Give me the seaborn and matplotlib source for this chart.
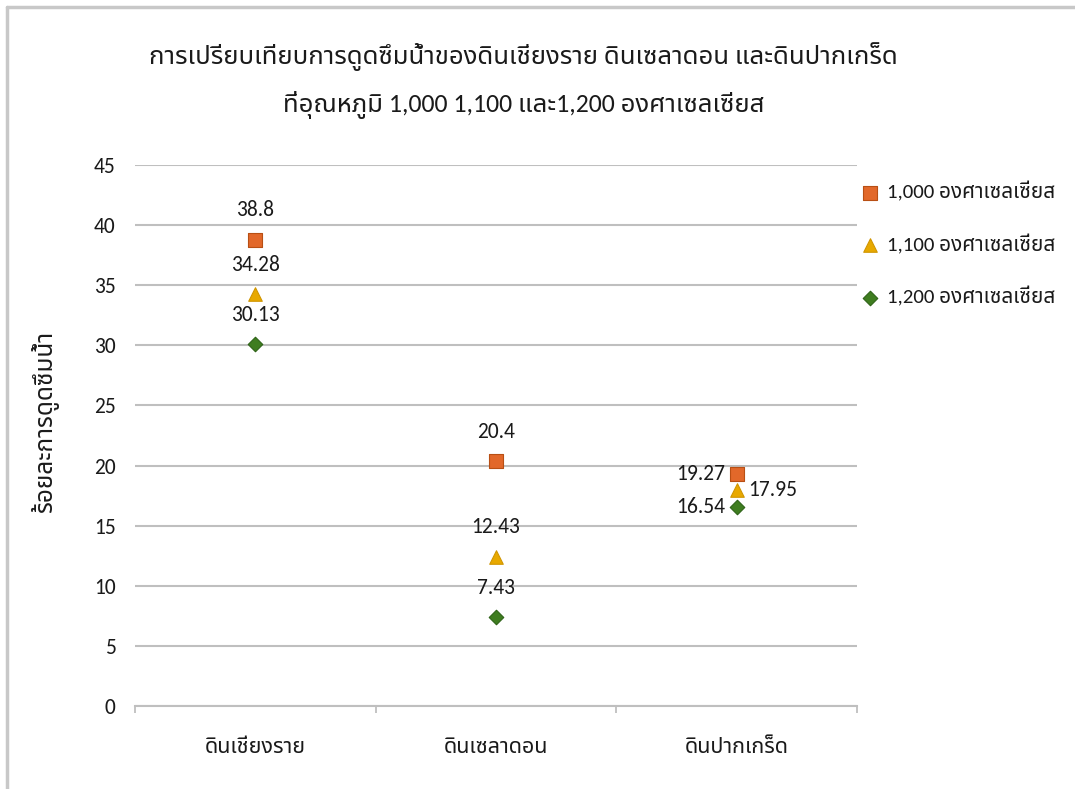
import matplotlib
matplotlib.use("Agg")
import matplotlib.pyplot as plt
from matplotlib.lines import Line2D
import seaborn as sns
import pandas as pd

# ---- data ----
categories = ["ดินเชียงราย", "ดินเซลาดอน", "ดินปากเกร็ด"]
series_names = ["1,000 องศาเซลเซียส", "1,100 องศาเซลเซียส", "1,200 องศาเซลเซียส"]
values_1000 = [38.8, 20.4, 19.27]
values_1100 = [34.28, 12.43, 17.95]
values_1200 = [30.13, 7.43, 16.54]
label_text_1000 = ["38.8", "20.4", "19.27"]
label_text_1100 = ["34.28", "12.43", "17.95"]
label_text_1200 = ["30.13", "7.43", "16.54"]
y_ticks = [0, 5, 10, 15, 20, 25, 30, 35, 40, 45]
title_text = "การเปรียบเทียบการดูดซึมน้ำของดินเชียงราย ดินเซลาดอน และดินปากเกร็ด\nที่อุณหภูมิ 1,000 1,100 และ1,200 องศาเซลเซียส"
y_label = "ร้อยละการดูดซึมน้ำ"

colors = ["#E2682A", "#E8A900", "#3F7D20"]
edge_colors = ["#B84F14", "#D09500", "#2F6318"]
markers = ["s", "^", "D"]
sizes = [95, 95, 55]

rows = []
for name, vals, labs in zip(series_names, [values_1000, values_1100, values_1200],
                            [label_text_1000, label_text_1100, label_text_1200]):
    for i, (c, v, l) in enumerate(zip(categories, vals, labs)):
        rows.append({"cat": c, "idx": i, "value": v, "series": name, "lab": l})
df = pd.DataFrame(rows)

sns.set_theme(style="white")
FAM = ["Carlito", "Noto Sans Thai"]
plt.rcParams["font.family"] = FAM

fig = plt.figure(figsize=(10.75, 7.89), dpi=100)
ax = fig.add_axes([135/1075, 1-706/789, (857-135)/1075, (706-165)/789])

for k, name in enumerate(series_names):
    sub = df[df["series"] == name]
    sns.scatterplot(data=sub, x="idx", y="value", ax=ax, marker=markers[k], s=sizes[k],
                    color=colors[k], edgecolor=edge_colors[k], linewidth=0.8,
                    label=name, zorder=3)

# data labels
offsets = {
    ("ดินเชียงราย", 0): (0, 21, "center"), ("ดินเชียงราย", 1): (0, 21, "center"), ("ดินเชียงราย", 2): (0, 21, "center"),
    ("ดินเซลาดอน", 0): (0, 21, "center"), ("ดินเซลาดอน", 1): (0, 21, "center"), ("ดินเซลาดอน", 2): (0, 21, "center"),
    ("ดินปากเกร็ด", 0): (-8, 0, "right"), ("ดินปากเกร็ด", 1): (8, 0, "left"), ("ดินปากเกร็ด", 2): (-8, 0, "right"),
}
for _, r in df.iterrows():
    k = series_names.index(r["series"])
    dx, dy, ha = offsets[(r["cat"], k)]
    ax.annotate(r["lab"], (r["idx"], r["value"]), xytext=(dx, dy), textcoords="offset points",
                ha=ha, va="center", fontsize=15.5, color="#1a1a1a", family=FAM, zorder=4)

ax.set_xlim(-0.5, 2.5)
ax.set_ylim(0, 45)
ax.set_yticks(y_ticks)
ax.set_yticklabels([str(t) for t in y_ticks])
ax.set_xticks(range(len(categories)))
ax.set_xticklabels(categories)
ax.set_xticks([-0.5, 0.5, 1.5, 2.5], minor=True)
ax.tick_params(axis="x", which="major", length=0, pad=22, labelsize=15.5, labelcolor="#1a1a1a")
ax.tick_params(axis="x", which="minor", length=5, width=1.3, color="#BFBFBF", bottom=True)
ax.tick_params(axis="y", length=0, pad=14, labelsize=15.5, labelcolor="#1a1a1a")
ax.yaxis.grid(True, color="#BFBFBF", linewidth=1.5)
ax.xaxis.grid(False)
ax.set_axisbelow(True)
for s in ["top", "right", "left"]:
    ax.spines[s].set_visible(False)
ax.spines["bottom"].set_color("#BFBFBF")
ax.spines["bottom"].set_linewidth(1.5)
ax.set_xlabel("")
ax.set_ylabel("")

leg = ax.legend(loc="upper left", bbox_to_anchor=(851/1075, 1-173/789), bbox_transform=fig.transFigure,
                frameon=False, fontsize=15, labelspacing=1.55, handletextpad=0.35, borderaxespad=0,
                handlelength=1.0)
for t in leg.get_texts():
    t.set_color("#1a1a1a")

fig.text(0.487, 1-81/789, title_text, ha="center", va="center", fontsize=18.5,
         linespacing=1.95, color="#1a1a1a", family=FAM)
fig.text(45/1075, 1-422/789, y_label, rotation=90, ha="center", va="center", fontsize=17.5,
         color="#1a1a1a", family=FAM)

# frame edges (top and left)
fig.add_artist(Line2D([7/1075, 1], [1-7/789, 1-7/789], color="#C8C8C8", linewidth=2.5, transform=fig.transFigure))
fig.add_artist(Line2D([7/1075, 7/1075], [0, 1-7/789], color="#C8C8C8", linewidth=2.5, transform=fig.transFigure))

fig.savefig("out.png", dpi=100)
